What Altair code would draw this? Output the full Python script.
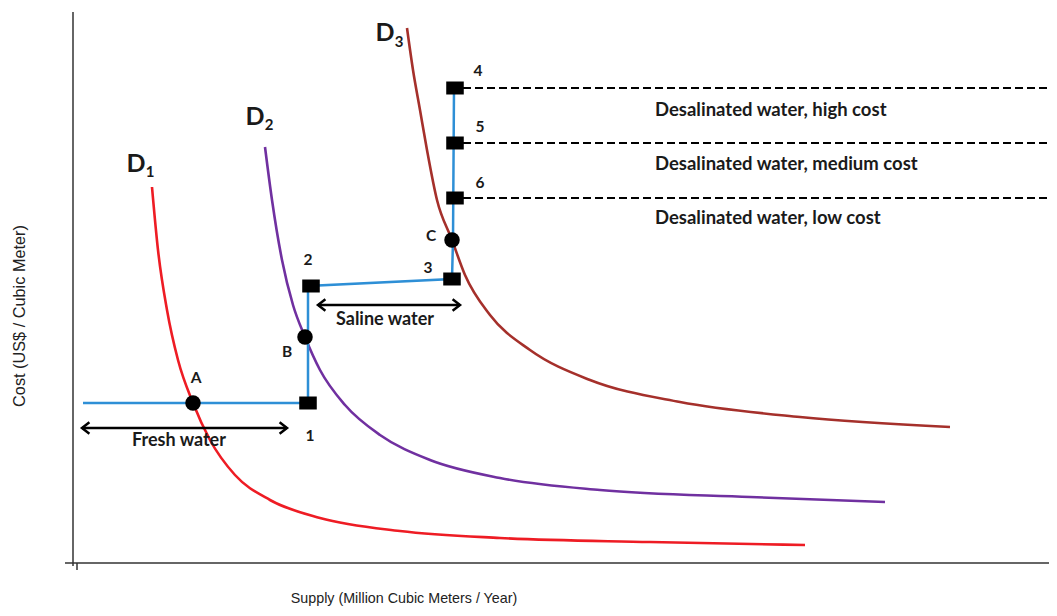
import altair as alt
import pandas as pd

# ---- data (conceptual units: supply, cost) ----
d1_x = [7.7, 8.3, 9.2, 10.3, 11.8, 13.5, 16.0, 19.5, 24.5, 32.5, 42.5, 57.5, 73.0]
d1_y = [37.6, 31.3, 25.3, 20.3, 16.0, 12.3, 8.8, 6.3, 4.5, 3.2, 2.5, 2.1, 1.8]
d2_x = [19.0, 19.7, 20.7, 21.8, 23.0, 24.5, 27.0, 30.5, 35.5, 42.5, 52.5, 67.5, 81.0]
d2_y = [41.6, 36.3, 30.3, 25.8, 22.6, 19.3, 15.8, 12.8, 10.3, 8.5, 7.3, 6.6, 6.1]
d3_x = [33.2, 33.8, 34.5, 35.2, 36.2, 37.7, 39.0, 41.5, 45.5, 51.5, 60.5, 72.5, 87.5]
d3_y = [53.5, 49.3, 45.3, 41.3, 36.3, 32.3, 28.8, 24.8, 21.3, 18.3, 16.1, 14.6, 13.6]

supply_x = [0.8, 23.3, 23.3, 37.7, 37.8, 37.9]
supply_y = [16.0, 16.0, 27.7, 28.4, 32.3, 47.5]

sq_labels = ["1", "2", "3", "4", "5", "6"]
sq_x = [23.3, 23.6, 37.7, 38.0, 38.0, 38.0]
sq_y = [16.0, 27.7, 28.4, 47.5, 42.0, 36.5]
sq_lab_x = [23.5, 23.3, 35.3, 40.3, 40.5, 40.5]
sq_lab_y = [12.7, 30.3, 29.5, 49.2, 43.6, 38.0]

eq_labels = ["A", "B", "C"]
eq_x = [11.8, 23.0, 37.7]
eq_y = [16.0, 22.6, 32.3]
eq_lab_x = [12.1, 21.2, 35.6]
eq_lab_y = [18.5, 21.1, 32.7]

desal_labels = ["Desalinated water, high cost", "Desalinated water, medium cost",
                "Desalinated water, low cost"]
desal_y = [47.5, 42.0, 36.5]
desal_lab_y = [45.3, 39.9, 34.5]

src_labels = ["Fresh water", "Saline water"]
arrow_x1 = [0.7, 24.3]
arrow_x2 = [21.2, 38.5]
arrow_y = [13.5, 25.8]
src_lab_x = [10.4, 31.0]
src_lab_y = [12.2, 24.3]

curve_names = ["D", "D", "D"]
curve_subs = ["1", "2", "3"]
curve_lab_x = [6.1, 18.0, 31.0]
curve_lab_y = [39.9, 44.6, 53.0]
curve_sub_x = [7.5, 19.4, 32.4]
curve_sub_y = [39.1, 43.8, 52.1]

x_title = "Supply (Million Cubic Meters / Year)"
y_title = "Cost (US$  / Cubic Meter)"

XD = [-6.7, 97.4]
YD = [-4.5, 55.5]
X = lambda f: alt.X(f, type="quantitative",
                    scale=alt.Scale(domain=XD, nice=False, zero=False), axis=None)
Y = lambda f: alt.Y(f, type="quantitative",
                    scale=alt.Scale(domain=YD, nice=False, zero=False), axis=None)

# ---- tables ----
curves = pd.concat([
    pd.DataFrame({"x": d1_x, "y": d1_y, "c": "D1", "o": range(len(d1_x))}),
    pd.DataFrame({"x": d2_x, "y": d2_y, "c": "D2", "o": range(len(d2_x))}),
    pd.DataFrame({"x": d3_x, "y": d3_y, "c": "D3", "o": range(len(d3_x))}),
])
supply = pd.DataFrame({"x": supply_x, "y": supply_y, "o": range(len(supply_x))})
squares = pd.DataFrame({"x": sq_x, "y": sq_y, "lx": sq_lab_x, "ly": sq_lab_y, "t": sq_labels})
eqs = pd.DataFrame({"x": eq_x, "y": eq_y, "lx": eq_lab_x, "ly": eq_lab_y, "t": eq_labels})
desal = pd.DataFrame({"y": desal_y, "ly": desal_lab_y, "t": desal_labels})
arrows = pd.DataFrame({"x1": arrow_x1, "x2": arrow_x2, "y": arrow_y,
                       "lx": src_lab_x, "ly": src_lab_y, "t": src_labels})
dlab = pd.DataFrame({"x": curve_lab_x, "y": curve_lab_y, "t": curve_names,
                     "sx": curve_sub_x, "sy": curve_sub_y, "s": curve_subs})

axes_df = pd.DataFrame({"x": [-0.2, -1.0, 0.2], "x2": [-0.2, XD[1], 0.2],
                        "y": [55.1, 0.0, 0.0], "y2": [-0.3, 0.0, -0.7]})
titles = pd.DataFrame({"x": [32.9], "y": [-3.6], "t": [x_title]})
ytitles = pd.DataFrame({"x": [-5.5], "y": [24.7], "t": [y_title]})

BOLD = dict(font="Lato", fontWeight="bold", color="#1a1a1a")

axes = alt.Chart(axes_df).mark_rule(color="#333333", strokeWidth=1.5).encode(
    x=X("x"), x2="x2", y=Y("y"), y2="y2")

curve_layer = alt.Chart(curves).mark_line(strokeWidth=2.6, interpolate="monotone").encode(
    x=X("x"), y=Y("y"), order="o:Q",
    color=alt.Color("c:N", scale=alt.Scale(domain=["D1", "D2", "D3"],
                                           range=["#EE1C24", "#7030A0", "#A5302B"]),
                    legend=None),
    detail="c:N")

supply_layer = alt.Chart(supply).mark_line(color="#2E8FD6", strokeWidth=2.5).encode(
    x=X("x"), y=Y("y"), order="o:Q")

dash_layer = alt.Chart(desal).transform_calculate(x1="38.8", x2=str(XD[1])).mark_rule(
    color="black", strokeWidth=2.2, strokeDash=[8, 4]).encode(
    x=X("x1:Q"), x2="x2:Q", y=Y("y"))

desal_text = alt.Chart(desal).transform_calculate(lx="58.0").mark_text(
    align="left", baseline="middle", fontSize=18.5, **BOLD).encode(
    x=X("lx:Q"), y=Y("ly"), text="t:N")

arrow_shaft = alt.Chart(arrows).mark_rule(color="black", strokeWidth=2.5).encode(
    x=X("x1"), x2="x2", y=Y("y"))
head_r = alt.Chart(arrows).mark_point(shape="M-1.3,-1L0,0L-1.3,1", filled=False,
                                      color="black", strokeWidth=2.5, size=130,
                                      opacity=1).encode(x=X("x2"), y=Y("y"))
head_l = alt.Chart(arrows).mark_point(shape="M1.3,-1L0,0L1.3,1", filled=False,
                                      color="black", strokeWidth=2.5, size=130,
                                      opacity=1).encode(x=X("x1"), y=Y("y"))
arrow_text = alt.Chart(arrows).mark_text(
    align="center", baseline="middle", fontSize=18, **BOLD).encode(
    x=X("lx"), y=Y("ly"), text="t:N")

sq_layer = alt.Chart(squares).mark_point(
    shape="M-1.35,-1L1.35,-1L1.35,1L-1.35,1Z", filled=True, color="black",
    size=169, opacity=1).encode(x=X("x"), y=Y("y"))
sq_text = alt.Chart(squares).mark_text(
    align="center", baseline="middle", fontSize=15.5, **BOLD).encode(
    x=X("lx"), y=Y("ly"), text="t:N")

eq_layer = alt.Chart(eqs).mark_point(shape="circle", filled=True, color="black",
                                     size=240, opacity=1).encode(x=X("x"), y=Y("y"))
eq_text = alt.Chart(eqs).mark_text(
    align="center", baseline="middle", fontSize=15.5, **BOLD).encode(
    x=X("lx"), y=Y("ly"), text="t:N")

d_text = alt.Chart(dlab).mark_text(
    align="center", baseline="middle", fontSize=25, **BOLD).encode(
    x=X("x"), y=Y("y"), text="t:N")
d_sub = alt.Chart(dlab).mark_text(
    align="center", baseline="middle", fontSize=15, **BOLD).encode(
    x=X("sx"), y=Y("sy"), text="s:N")

xt = alt.Chart(titles).mark_text(
    align="center", baseline="middle", font="Liberation Sans", fontSize=14.3,
    color="#222222").encode(x=X("x"), y=Y("y"), text="t:N")
yt = alt.Chart(ytitles).mark_text(
    align="center", baseline="middle", font="Liberation Sans", fontSize=16.3, angle=270,
    color="#222222").encode(x=X("x"), y=Y("y"), text="t:N")

chart = alt.layer(
    axes, curve_layer, supply_layer, dash_layer, desal_text,
    arrow_shaft, head_r, head_l, arrow_text,
    sq_layer, sq_text, eq_layer, eq_text, d_text, d_sub, xt, yt
).properties(
    width=1041, height=600, padding=0, autosize=alt.AutoSizeParams(type="none"),
    background="white"
).configure_view(stroke=None)

chart.save("out.html", embed_options={"renderer": "svg", "actions": False})
